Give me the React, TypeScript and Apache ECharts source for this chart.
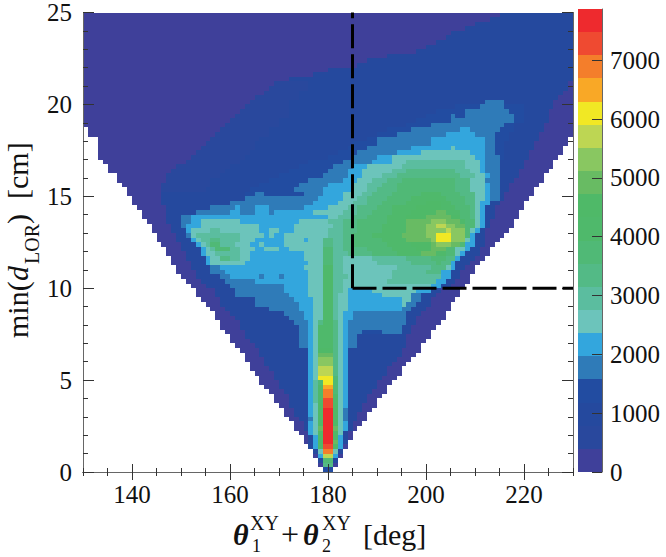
import React, { useEffect, useRef } from "react";
import * as echarts from "echarts";

const FONT = "Liberation Serif";
const X_MAJOR = [140, 160, 180, 200, 220];
const BAR_MAX = 7870;
const LEVEL_LETTERS = "abcdefghijklmnopqrst";
const LEVEL_VALUES = [200, 590, 985, 1380, 1770, 2165, 2560, 2950, 3345, 3740, 4130, 4525, 4920, 5310, 5705, 6100, 6495, 6885, 7280, 7675];
const LEVEL_EDGES = [0, 393, 787, 1180, 1574, 1967, 2361, 2754, 3148, 3541, 3935, 4328, 4722, 5115, 5509, 5902, 6296, 6689, 7083, 7476, 7870];
const LEVEL_COLORS = ["#3f409a", "#29489d", "#25499e", "#224ca1", "#2f7bb8", "#33a6dd", "#6cc4bb", "#5bbd9f", "#53ba86", "#50b976", "#4fb96b", "#4fb968", "#68bb63", "#89c761", "#bdd653", "#f1e824", "#f9a826", "#f47e2b", "#ef4a31", "#ee2a2e"];

// Each string is one row of bins, row 99 (y = 24.75..25) first. A token is a level letter and
// the bin where that run ends; "." means an empty run.
const ROWS_TOP = [
  "a85 c100", "a83 c100", "a80 c100", "a78 c100", "a75 c100", "a74 c100", "a72 c100", "a70 c100", "a68 c100", "a62 c100",
  "a58 c100", "a56 c100", "a50 c100", "a47 c100", "a42 c100",
  "a39 b46 c99 a100", "a38 b46 c99 a100", "a37 b44 c98 a100", "a35 b44 c97 a100",
  "a34 b42 c82 e86 c96 a100",
  "a33 b42 c76 d81 e86 d90 c96 a100",
  "a32 b42 c72 d78 e87 d90 c95 a100",
  "a31 b42 c70 d75 e76 d78 e88 d90 c95 a100",
  "a30 b40 c68 d75 e88 d90 c95 a100",
  "a29 b40 c66 d71 e86 d88 c94 a100",
];
const ROWS_UPPER = [
  ".1 a28 b38 c62 d67 e77 f79 e85 d88 c94 a100",
  ".1 a27 b38 c60 d64 e74 f80 e84 d87 c93 a100",
  ".3 a26 b36 c58 d60 e71 f82 e84 d87 c93 a99",
  ".3 a25 b35 c55 d60 e71 f82 e84 d86 c92 a99",
  ".3 a24 b35 c54 d58 e67 f75 g76 f82 e84 d86 c92 a98",
  ".3 a23 b34 c52 d56 e64 f69 g79 f82 e84 d86 c91 a98",
  ".3 a22 b33 c50 d55 e60 f63 g80 f82 e85 d86 c91 a97",
  ".4 a21 b32 c46 d53 e59 f63 g66 h78 g81 f82 e85 c90 a96",
  ".5 a19 b30 c44 d51 e55 f58 g65 h78 g81 f82 e85 c90 a96",
  ".5 a18 b29 c42 d50 e54 f57 g63 h66 i76 h79 g81 f82 e85 c89 a95",
  ".7 a17 b28 c40 d49 e54 f57 g61 h64 i77 h80 g82 f83 e85 c89 a94",
  ".7 a17 b26 c38 d46 e53 f56 g59 h62 i65 j76 i79 g82 e85 c88 a94",
  ".8 a16 b26 c36 d44 e50 f55 g58 h61 i64 j76 i79 g82 f83 e85 c87 a93",
  ".9 a16 b25 c34 d43 e49 f55 g58 h60 i64 j76 i79 g82 f83 e85 c87 a92",
  ".9 a16 c33 d35 e37 d45 e49 f53 g57 h59 i63 j69 k73 j77 i80 g82 f83 e85 c86 a92",
  ".10 a16 c33 e48 f53 g56 h58 i62 j67 k74 j78 i80 g82 f83 e85 c86 a91",
  ".10 a16 c30 e47 f52 g55 h58 i61 j66 k70 l73 k75 j78 i80 g81 f83 c85 a90",
  ".11 a17 c26 e31 f32 e35 f38 e45 f50 g54 h56 i60 j63 k68 l73 k76 j79 i80 g81 f82 c84 a90",
  ".12 a17 c23 e30 f32 e35 f38 e39 f47 g53 h56 i59 j63 k67 l72 m74 k77 j79 i80 g81 f82 c84 a89",
  ".12 a17 c20 e22 f50 g52 h55 i58 j62 k66 l70 m75 l77 j79 i80 g81 f82 c84 a89",
  ".13 a17 c20 e22 f24 g32 f44 g50 h53 i56 j62 k66 m71 n74 m77 k78 j80 g81 f82 c83 a88",
  ".14 a18 c20 e21 f24 g36 f43 g51 h53 i56 j61 k66 m70 n72 o74 n76 m78 j80 g81 f82 c83 a88",
  ".14 a18 c21 f22 g26 h28 g36 f38 g40 f43 g50 h53 i56 j61 k66 m70 n74 o75 n78 j79 g80 f81 c82 a87",
  ".15 a19 c21 e22 g23 h32 g37 f38 g39 f41 g50 h53 i55 j59 k65 m70 n72 p75 n78 j79 f80 c82 a86",
  ".15 a19 c22 f23 g24 h26 i28 h32 g35 f41 g45 f46 g49 i51 h53 i55 j61 k66 m71 n72 p75 n78 g79 f80 c82 a85",
];
const ROWS_LOWER = [
  ".16 a20 c23 f24 g25 h26 j28 h31 g34 f36 g37 f41 g49 i51 h53 i55 j62 k67 l71 m72 n75 m77 j78 f80 c82 a84",
  ".17 a20 c24 f25 g26 h27 j30 h32 g35 f37 g40 f42 g49 j51 h53 i58 j63 k68 l71 m74 j76 g78 f79 c81 a83",
  ".17 a21 c24 f25 g27 h32 g34 f45 g49 j51 h54 i59 j64 k69 m72 k74 j76 g77 f78 c81 a83",
  ".18 a21 c25 f26 g28 i30 h32 g34 f45 g49 j51 h53 g59 h66 i71 j74 i76 f77 c80 a82",
  ".18 a22 c25 f26 g33 f46 g49 j51 h53 g60 h67 i72 j73 i75 f76 c79 a81",
  ".19 a22 c26 e28 f45 g49 k51 h53 g64 h71 i74 g75 f76 c78 a80",
  ".19 a23 c26 e29 f46 g49 k51 h53 g63 h70 i73 f75 c77 a80",
  ".20 a23 c28 e30 f36 e37 f40 e41 f46 g49 k51 h54 g63 h73 f75 c77 a79",
  ".21 a24 c29 e35 f46 g49 k51 h53 g62 h72 f74 c76 a79",
  ".22 a25 c30 e41 f46 g49 k51 h53 g71 f73 c75 a78",
  ".23 a27 c31 e41 f46 g49 k51 h53 g54 f59 g68 f71 c73 a77",
  ".23 a27 c31 e42 f46 g49 k51 h52 g54 f61 g67 e69 c72 a77",
  ".24 a28 c35 e43 f47 g49 k51 h52 g54 f65 g67 e69 c71 a76",
  ".25 a28 c35 e44 f47 g49 k51 h52 g54 f65 g66 e68 c71 a75",
  ".26 a29 c38 e44 f47 g49 k51 h52 g54 f65 e67 c70 a75",
  ".27 a30 c41 e45 f47 g49 k51 h52 g53 f55 e66 c69 a74",
  ".27 a31 c42 e45 f47 g49 k51 h52 g53 f55 e66 c68 a74",
  ".28 a32 c43 e46 f47 g48 i49 k51 i52 g53 f54 e66 c68 a73",
  ".28 a32 c44 e46 f47 g48 k51 i52 g53 f54 e65 c67 a72",
  ".29 a33 c44 e46 f47 g48 k51 i52 g53 f54 e57 d61 e65 c67 a71",
  ".30 a33 c44 e46 f47 g48 k51 i52 g53 f54 e56 c66 a71",
  ".30 a34 c44 e46 f47 g48 k51 i52 g53 f54 e56 c66 a70",
  ".31 a35 c44 e46 f47 g48 k51 i52 g53 f54 e56 c66 a69",
];
const ROWS_TIP = [
  ".32 a36 c46 f47 g48 l51 i52 g53 f54 c65 a69",
  ".33 a36 c46 f47 g48 m51 i52 g53 f54 c65 a68",
  ".33 a37 c46 f47 g48 n51 i52 g53 f54 c64 a67",
  ".34 a37 c46 f47 g48 n51 i52 g53 f54 c63 a66",
  ".34 a38 c46 f47 g48 o51 i52 g53 f54 c62 a65",
  ".35 a39 c46 f47 g48 o51 i52 g53 f54 c62 a65",
  ".36 a39 c46 f47 g48 p51 j52 g53 f54 c61 a64",
  ".36 a40 c46 f47 h48 j49 p51 j52 g53 f54 c60 a63",
  ".37 a40 c46 f47 h48 k49 q51 j52 g53 f54 c60 a62",
  ".38 a41 c46 f47 h48 k49 r51 j52 g53 f54 c59 a62",
  ".39 a42 c46 f47 h48 k49 r51 k52 g53 f54 c58 a61",
  ".39 a42 c46 f47 h48 k49 s51 k52 g53 f54 c58 a60",
  ".40 a42 c46 f47 g48 l49 s51 l52 g53 f54 c57 a60",
  ".41 a43 c46 f47 g48 l49 t51 l52 g53 e54 c57 a59",
  ".41 a43 c46 f47 g48 l49 t51 l52 g53 e54 c56 a58",
  ".42 a44 c46 e47 g48 l49 t51 l52 g53 e54 c56 a58",
  ".43 a45 c46 f47 g48 l49 t51 l52 g53 f54 c55 a57",
  ".43 a45 c46 f47 g48 m49 t51 m52 g53 f54 c55 a56",
  ".44 a46 f47 g48 l49 t51 l52 g53 c54 a55",
  ".45 a46 c47 f48 l49 t51 l52 f53 c54 a55",
  ".45 a46 c47 f48 l49 t51 m52 f53 c54",
  ".46 c47 f48 k49 s51 k52 f53 a54",
  ".47 c48 g49 r51 g52 c53",
  ".47 a48 f49 o51 f52 a53",
  ".48 c49 j51 c52",
  ".48 a49 i51 a52",
  ".49 d51",
];
const ROWS = [...ROWS_TOP, ...ROWS_UPPER, ...ROWS_LOWER, ...ROWS_TIP];

const X_MIN = 130;
const X_MAX = 230;
const Y_MAX = 25;
const BIN_W = 1;
const BIN_H = 0.25;
const DASH_X = 185;
const DASH_Y = 10;

function buildCells() {
  const cells: number[][] = [];
  ROWS.forEach((row, r) => {
    const j = ROWS.length - 1 - r;
    let i = 0;
    for (const token of row.split(" ")) {
      const end = parseInt(token.slice(1), 10);
      const level = LEVEL_LETTERS.indexOf(token[0]);
      for (; i < end; i++) {
        if (level >= 0) cells.push([X_MIN + i * BIN_W, j * BIN_H, LEVEL_VALUES[level], level]);
      }
    }
  });
  return cells;
}

const axisLine = { show: true, lineStyle: { color: "#666", width: 1 } };
const tick = (length: number) => ({ show: true, inside: true, length, lineStyle: { color: "#333", width: 1 } });

function xAxisOf(position: string, major: boolean, labelled: boolean) {
  return {
    type: "value", gridIndex: 0, min: X_MIN, max: X_MAX, position, z: 5,
    ...(major ? {} : { interval: 5 }),
    axisLine,
    axisTick: major ? { ...tick(8), customValues: X_MAJOR } : tick(4),
    axisLabel: labelled
      ? { show: true, customValues: X_MAJOR, fontFamily: FONT, fontSize: 25, color: "#111", margin: 10 }
      : { show: false },
    splitLine: { show: false },
  };
}
function yAxisOf(position: string, interval: number, len: number, labelled: boolean) {
  return {
    type: "value", gridIndex: 0, min: 0, max: Y_MAX, interval, position, z: 5,
    axisLine,
    axisTick: tick(len),
    axisLabel: labelled ? { show: true, fontFamily: FONT, fontSize: 25, color: "#111", margin: 11 } : { show: false },
    splitLine: { show: false },
  };
}

const titleText = (text: string, x: number, y: number, fontSize: number, extra: any = {}) => ({
  type: "text", x, y, silent: true, z: 20,
  style: { text, fontFamily: FONT, fontSize, fill: "#111", align: "left", verticalAlign: "middle", ...extra },
});
const ROT = { rotation: Math.PI / 2 };
const THETA = { fontStyle: "italic", fontWeight: "bold" };

export default function App() {
  const ref = useRef<HTMLDivElement>(null);
  useEffect(() => {
    if (!ref.current) return;
    const chart = echarts.init(ref.current, undefined, { renderer: "svg" });
    const cells = buildCells();
    const barData = LEVEL_VALUES.map((_, k) => [LEVEL_EDGES[k], LEVEL_EDGES[k + 1], k]);
    chart.setOption({
      animation: false,
      backgroundColor: "#fff",
      grid: [
        { left: 83, top: 9, width: 490, height: 463 },
        { left: 578, top: 9, width: 24, height: 463 },
      ],
      xAxis: [
        xAxisOf("bottom", true, true),
        xAxisOf("bottom", false, false),
        xAxisOf("top", true, false),
        xAxisOf("top", false, false),
        { type: "category", gridIndex: 1, data: ["bar"], show: false },
      ],
      yAxis: [
        yAxisOf("left", 5, 11, true),
        yAxisOf("left", 1, 5, false),
        yAxisOf("right", 5, 11, false),
        yAxisOf("right", 1, 5, false),
        {
          type: "value", gridIndex: 1, min: 0, max: BAR_MAX, interval: 1000, position: "right", z: 5,
          axisLine,
          axisTick: tick(10),
          axisLabel: {
            show: true, showMaxLabel: false, fontFamily: FONT, fontSize: 25, color: "#111", margin: 8,
            formatter: (v: number) => String(v),
          },
          splitLine: { show: false },
        },
      ],
      series: [
        {
          type: "custom", xAxisIndex: 0, yAxisIndex: 0, data: cells, progressive: 0, silent: true, z: 2,
          encode: { x: 0, y: 1 },
          renderItem: (_: any, api: any) => {
            const a = api.coord([api.value(0), api.value(1)]);
            const b = api.coord([api.value(0) + BIN_W, api.value(1) + BIN_H]);
            const x0 = Math.round(a[0]);
            const x1 = Math.round(b[0]);
            const y0 = Math.round(a[1]);
            const y1 = Math.round(b[1]);
            return {
              type: "rect",
              shape: { x: x0, y: y1, width: x1 - x0, height: y0 - y1 },
              style: { fill: LEVEL_COLORS[api.value(3)] },
            };
          },
        },
        {
          type: "custom", xAxisIndex: 4, yAxisIndex: 4, data: barData, silent: true, z: 2,
          encode: { y: [0, 1] },
          renderItem: (params: any, api: any) => {
            const a = api.coord([0, api.value(0)]);
            const b = api.coord([0, api.value(1)]);
            const s = api.size([1, 0]);
            const y0 = Math.round(a[1]);
            const y1 = Math.round(b[1]);
            return {
              type: "rect",
              shape: { x: a[0] - s[0] / 2, y: y1, width: s[0], height: y0 - y1 },
              style: { fill: LEVEL_COLORS[api.value(2)] },
            };
          },
        },
        {
          type: "line", xAxisIndex: 0, yAxisIndex: 0, showSymbol: false, silent: true, z: 10,
          data: [[DASH_X, DASH_Y], [DASH_X, Y_MAX]],
          lineStyle: { color: "#000", width: 3, type: [24, 6] },
        },
        {
          type: "line", xAxisIndex: 0, yAxisIndex: 0, showSymbol: false, silent: true, z: 10,
          data: [[DASH_X, DASH_Y], [X_MAX, DASH_Y]],
          lineStyle: { color: "#000", width: 3, type: [24, 6] },
        },
      ],
      graphic: [
        titleText("θ", 233, 534, 30, THETA),
        titleText("XY", 250, 523, 20),
        titleText("1", 252, 546, 18),
        titleText("+", 281, 534, 32),
        titleText("θ", 303, 534, 30, THETA),
        titleText("XY", 322, 523, 20),
        titleText("2", 322, 546, 18),
        titleText("[deg]", 363, 534, 30),
        { ...titleText("min(", 17, 338, 30), ...ROT },
        { ...titleText("d", 17, 281, 30, { fontStyle: "italic" }), ...ROT },
        { ...titleText("LOR", 32, 264, 20), ...ROT },
        { ...titleText(")", 17, 224, 30), ...ROT },
        { ...titleText("[cm]", 17, 199, 30), ...ROT },
      ],
    });
    return () => chart.dispose();
  }, []);
  return <div ref={ref} style={{ position: "fixed", left: 0, top: 0, width: 666, height: 557 }} />;
}
